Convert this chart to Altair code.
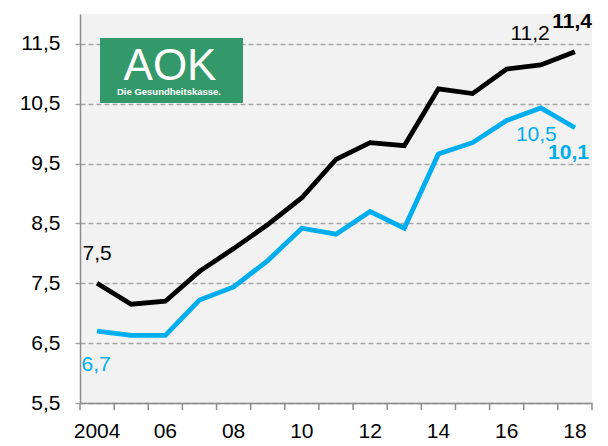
import altair as alt
import pandas as pd

years = [str(y) for y in range(2004, 2019)]
black_vals = [7.5, 7.15, 7.2, 7.7, 8.08, 8.48, 8.93, 9.57, 9.85, 9.8, 10.75, 10.67, 11.08, 11.15, 11.37]
cyan_vals = [6.7, 6.63, 6.63, 7.22, 7.44, 7.88, 8.42, 8.32, 8.7, 8.42, 9.66, 9.85, 10.22, 10.43, 10.1]
y_ticks = [5.5, 6.5, 7.5, 8.5, 9.5, 10.5, 11.5]

FONT = "Liberation Sans, Arial, sans-serif"
FS = 21
BLACK = "#000000"
CYAN = "#00aeef"
AXC = "#8c8c8c"

df = pd.DataFrame({
    "year": years * 2,
    "value": black_vals + cyan_vals,
    "series": ["black"] * len(years) + ["cyan"] * len(years),
})

xscale = alt.Scale(type="band", paddingInner=0, paddingOuter=0, domain=years)
x_enc = alt.X("year:O", bandPosition=0.5, scale=xscale,
              axis=alt.Axis(title=None, ticks=False, domainColor=AXC, domainWidth=1.5, labelAngle=0,
                            labelFont=FONT, labelFontSize=FS, labelColor="#000", labelPadding=17,
                            labelExpr="toNumber(datum.value) % 2 == 0 ? (datum.value == '2004' ? '2004' : substring(datum.value, 2, 4)) : ''",
                            grid=False))
y_enc = alt.Y("value:Q", scale=alt.Scale(domain=[5.5, 12], nice=False, zero=False),
              axis=alt.Axis(title=None, values=y_ticks, grid=True, gridColor="#a6a6a6",
                            gridDash=[5, 3], gridWidth=1.5, domainColor=AXC, domainWidth=1.5,
                            tickColor="#a6a6a6", tickWidth=1.5, tickSize=8, tickDash=[5, 3],
                            labelFont=FONT, labelFontSize=FS, labelColor="#000", labelPadding=12,
                            labelExpr="replace(format(datum.value, '.1f'), '.', ',')",
                            minExtent=72, maxExtent=72))

color_enc = alt.Color("series:N", scale=alt.Scale(domain=["black", "cyan"], range=[BLACK, CYAN]), legend=None)

lines = alt.Chart(df).mark_line(strokeWidth=4.8, strokeJoin="miter", strokeCap="butt").encode(
    x=x_enc, y=y_enc, color=color_enc,
)

# x-axis tick marks at band boundaries
tick_df = pd.DataFrame({"year": years})
ticks_left = alt.Chart(tick_df).mark_rule(color=AXC, strokeWidth=1.5).encode(
    x=alt.X("year:O", bandPosition=0), y=alt.value(389), y2=alt.value(396))
ticks_right = alt.Chart(tick_df.tail(1)).mark_rule(color=AXC, strokeWidth=1.5).encode(
    x=alt.X("year:O", bandPosition=1), y=alt.value(389), y2=alt.value(396))

# data labels
lab_df = pd.DataFrame({
    "year": ["2004", "2004", "2017", "2018", "2017", "2018"],
    "value": [black_vals[0], cyan_vals[0], black_vals[13], black_vals[14], cyan_vals[13], cyan_vals[14]],
    "text": ["7,5", "6,7", "11,2", "11,4", "10,5", "10,1"],
})

def lab(t, color, dx, dy, align="center", bold=False):
    return alt.Chart(lab_df[lab_df.text == t]).mark_text(
        font=FONT, fontSize=FS, fontWeight="bold" if bold else "normal",
        dx=dx, dy=dy, align=align, baseline="middle", color=color).encode(
        x=alt.X("year:O", bandPosition=0.5), y="value:Q", text="text:N")

labels = [
    lab("7,5", BLACK, 0, -29),
    lab("6,7", CYAN, -1, 34),
    lab("11,2", BLACK, 9, -31, align="right"),
    lab("11,4", BLACK, 17, -30, align="right", bold=True),
    lab("10,5", CYAN, 16, 27, align="right"),
    lab("10,1", CYAN, 14, 25, align="right", bold=True),
]

# logo
logo_bg = alt.Chart(pd.DataFrame({"a": [0]})).mark_rect(color="#34996a").encode(
    x=alt.value(20), x2=alt.value(163), y=alt.value(24), y2=alt.value(89))
logo_aok = alt.Chart(pd.DataFrame({"t": ["AOK"]})).mark_text(
    font="Liberation Sans, Arial, sans-serif", fontSize=44, color="white", align="center", baseline="alphabetic").encode(
    x=alt.value(90), y=alt.value(66), text="t:N")
logo_sub = alt.Chart(pd.DataFrame({"t": ["Die Gesundheitskasse."]})).mark_text(
    font=FONT, fontSize=9.5, fontWeight="bold", color="white", align="center", baseline="alphabetic").encode(
    x=alt.value(89), y=alt.value(81), text="t:N")

chart = alt.layer(lines, ticks_left, ticks_right, *labels,
                  logo_bg, logo_aok, logo_sub).properties(
    width=512, height=389,
    autosize=alt.AutoSizeParams(type="none"),
    padding={"left": 72, "top": 6, "right": 8, "bottom": 40},
    background="white",
).configure_view(fill="#f2f2f2", stroke=None)

chart.save("out.html", embed_options={"renderer": "svg", "actions": False})
